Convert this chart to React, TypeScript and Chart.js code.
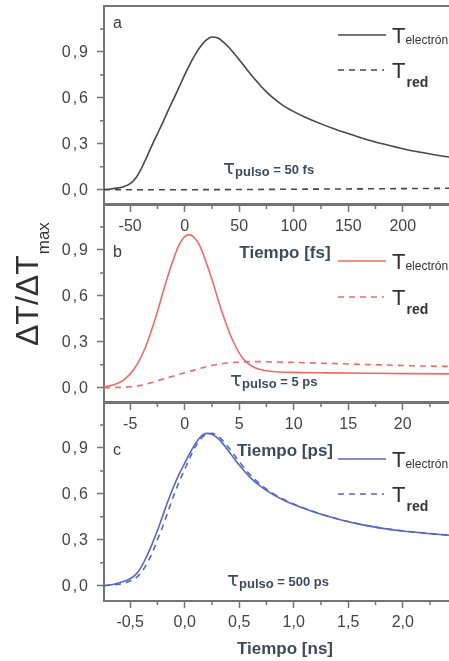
import React, { useEffect, useRef } from "react";
import { Chart, registerables } from "chart.js";
Chart.register(...registerables);

// ---------- Panel a (fs) ----------
const tA = [-74, -68, -62, -56, -50, -45, -40, -35, -30, -25, -20, -15, -10, -5, 0, 5, 10, 15, 20, 25, 30, 35, 40, 45, 50, 55, 60, 65, 70, 75, 80, 90, 100, 110, 125, 140, 155, 170, 185, 200, 215, 230, 245, 258];
const electronA = [0.002, 0.005, 0.01, 0.02, 0.04, 0.075, 0.135, 0.21, 0.29, 0.365, 0.44, 0.52, 0.595, 0.672, 0.75, 0.822, 0.887, 0.94, 0.978, 0.997, 0.992, 0.968, 0.934, 0.893, 0.849, 0.804, 0.759, 0.716, 0.676, 0.639, 0.606, 0.551, 0.51, 0.475, 0.43, 0.39, 0.355, 0.322, 0.294, 0.268, 0.246, 0.227, 0.21, 0.197];
const tARed = [-74, 0, 50, 100, 150, 200, 258];
const redA = [0, 0, 0.001, 0.003, 0.005, 0.007, 0.01];

// ---------- Panel b (ps) ----------
const tB = [-7.4, -6.6, -5.6, -4.6, -3.6, -2.6, -1.6, -0.6, -0.1, 0.4, 0.9, 1.4, 2.4, 3.4, 4.4, 5.4, 6.4, 7.4, 8.4, 10, 13, 17, 21, 25.8];
const electronB = [0.006, 0.017, 0.05, 0.125, 0.264, 0.473, 0.717, 0.92, 0.98, 1.0, 0.98, 0.925, 0.73, 0.5, 0.31, 0.185, 0.132, 0.112, 0.104, 0.1, 0.097, 0.094, 0.092, 0.09];
const tBRed = [-7.4, -6, -5, -4, -3, -2, -1, 0, 1, 2, 3, 4, 5, 6, 7, 9, 12, 15, 18, 21, 25.8];
const redB = [0, 0.002, 0.006, 0.015, 0.034, 0.056, 0.077, 0.097, 0.118, 0.137, 0.152, 0.162, 0.168, 0.17, 0.17, 0.167, 0.161, 0.155, 0.149, 0.143, 0.137];

// ---------- Panel c (ns) ----------
const tC = [-0.74, -0.65, -0.55, -0.5, -0.45, -0.4, -0.35, -0.3, -0.25, -0.2, -0.15, -0.1, -0.05, 0, 0.05, 0.1, 0.15, 0.2, 0.25, 0.3, 0.35, 0.4, 0.45, 0.5, 0.6, 0.7, 0.8, 0.9, 1.0, 1.2, 1.4, 1.6, 1.8, 2.0, 2.2, 2.4, 2.58];
const electronC = [0, 0.01, 0.03, 0.045, 0.072, 0.12, 0.19, 0.27, 0.36, 0.46, 0.56, 0.65, 0.73, 0.8, 0.87, 0.93, 0.975, 0.995, 0.99, 0.965, 0.928, 0.882, 0.834, 0.788, 0.708, 0.647, 0.6, 0.562, 0.53, 0.478, 0.436, 0.402, 0.376, 0.357, 0.343, 0.331, 0.322];
const tCRed = [-0.74, -0.6, -0.5, -0.45, -0.4, -0.35, -0.3, -0.25, -0.2, -0.15, -0.1, -0.05, 0, 0.05, 0.1, 0.15, 0.2, 0.25, 0.3, 0.35, 0.4, 0.45, 0.5, 0.6, 0.7, 0.8, 0.9, 1.0, 1.2, 1.4, 1.6, 1.8, 2.0, 2.2, 2.4, 2.58];
const redC = [0, 0.01, 0.03, 0.05, 0.085, 0.14, 0.21, 0.3, 0.39, 0.49, 0.59, 0.68, 0.76, 0.84, 0.91, 0.96, 0.99, 0.995, 0.98, 0.948, 0.905, 0.858, 0.81, 0.725, 0.658, 0.607, 0.566, 0.533, 0.48, 0.437, 0.403, 0.377, 0.358, 0.344, 0.331, 0.322];

// ---------- Ticks ----------
const yMajor = [0, 0.3, 0.6, 0.9];
const yMinor = [0.15, 0.45, 0.75, 1.05];
const xMajorA = [-50, 0, 50, 100, 150, 200];
const xMinorA = [-25, 25, 75, 125, 175, 225];
const xMajorB = [-5, 0, 5, 10, 15, 20];
const xMinorB = [-2.5, 2.5, 7.5, 12.5, 17.5, 22.5];
const xMajorC = [-0.5, 0, 0.5, 1.0, 1.5, 2.0];
const xMinorC = [-0.25, 0.25, 0.75, 1.25, 1.75, 2.25];

const FONT = "'Liberation Sans', Arial, sans-serif";
const AXIS = "#747474";
const CANVAS_W = 470;
const CANVAS_H = 264;
const X_AXIS_H = 59;

type Cfg = {
  letter: string;
  letterDy: number;
  xs: number[]; ys: number[]; xr: number[]; yr: number[];
  min: number; max: number;
  xMajor: number[]; xMinor: number[];
  fmt: (v: number) => string;
  title: string;
  color: string;
  legendDy: [number, number];
  pulse: string;
  pulseX: number; pulseDy: number;
  yTitle?: boolean;
  top: number;
};

const comma = (v: number) => v.toFixed(1).replace(".", ",");

const panels: Cfg[] = [
  { letter: "a", letterDy: 22, xs: tA, ys: electronA, xr: tARed, yr: redA, min: -74, max: 258, xMajor: xMajorA, xMinor: xMinorA, fmt: (v) => String(v), title: "Tiempo [fs]", color: "#474747", legendDy: [29, 64], pulse: " = 50 fs", pulseX: 223, pulseDy: 168, top: 0 },
  { letter: "b", letterDy: 53, xs: tB, ys: electronB, xr: tBRed, yr: redB, min: -7.4, max: 25.8, xMajor: xMajorB, xMinor: xMinorB, fmt: (v) => String(v), title: "Tiempo [ps]", color: "#ee6a66", legendDy: [57, 93], pulse: " = 5 ps", pulseX: 230, pulseDy: 182, yTitle: true, top: 198 },
  { letter: "c", letterDy: 53, xs: tC, ys: electronC, xr: tCRed, yr: redC, min: -0.74, max: 2.58, xMajor: xMajorC, xMinor: xMinorC, fmt: comma, title: "Tiempo [ns]", color: "#5668c0", legendDy: [57, 92], pulse: " = 500 ps", pulseX: 227, pulseDy: 184, top: 396 },
];

function decor(cfg: Cfg) {
  return {
    id: "decor",
    afterDraw(chart: any) {
      const { ctx, chartArea: a, scales } = chart;
      ctx.save();
      // top frame
      ctx.strokeStyle = AXIS;
      ctx.lineWidth = 2;
      ctx.beginPath();
      ctx.moveTo(a.left - 1, a.top);
      ctx.lineTo(a.right, a.top);
      ctx.stroke();
      // minor ticks
      ctx.lineWidth = 1.5;
      ctx.beginPath();
      for (const v of yMinor) {
        const y = scales.y.getPixelForValue(v);
        ctx.moveTo(a.left - 4, y);
        ctx.lineTo(a.left, y);
      }
      for (const v of cfg.xMinor) {
        const x = scales.x.getPixelForValue(v);
        ctx.moveTo(x, a.bottom);
        ctx.lineTo(x, a.bottom + 4);
      }
      ctx.stroke();
      // y tick labels (slightly letter-spaced like the original)
      ctx.fillStyle = "#444";
      ctx.font = `16px ${FONT}`;
      ctx.textAlign = "right";
      ctx.textBaseline = "middle";
      (ctx as any).letterSpacing = "2px";
      for (const v of yMajor) {
        const y = scales.y.getPixelForValue(v);
        ctx.fillText(comma(v), a.left - 14, y + 0.5);
      }
      (ctx as any).letterSpacing = "0px";
      // panel letter
      ctx.fillStyle = "#3a3a3a";
      ctx.font = `16px ${FONT}`;
      ctx.textBaseline = "alphabetic";
      ctx.textAlign = "left";
      ctx.fillText(cfg.letter, a.left + 9, a.top + cfg.letterDy);
      // legend
      const lx0 = 338, lx1 = 386, tx = 392;
      const y1 = a.top + cfg.legendDy[0];
      const y2 = a.top + cfg.legendDy[1];
      ctx.strokeStyle = cfg.color;
      ctx.lineWidth = 1.6;
      ctx.setLineDash([]);
      ctx.beginPath(); ctx.moveTo(lx0, y1); ctx.lineTo(lx1, y1); ctx.stroke();
      ctx.setLineDash([6, 5]);
      ctx.beginPath(); ctx.moveTo(lx0, y2); ctx.lineTo(lx1 - 2, y2); ctx.stroke();
      ctx.setLineDash([]);
      ctx.fillStyle = "#333";
      ctx.font = `22px ${FONT}`;
      ctx.fillText("T", tx, y1 + 8);
      const tw = ctx.measureText("T").width;
      ctx.font = `12px ${FONT}`;
      ctx.fillText("electrón", tx + tw, y1 + 9);
      ctx.font = `22px ${FONT}`;
      ctx.fillText("T", tx, y2 + 8);
      ctx.font = `bold 14px ${FONT}`;
      ctx.fillText("red", tx + tw + 1, y2 + 17);
      // pulse annotation
      const py = a.top + cfg.pulseDy;
      ctx.fillStyle = "#3d4a5e";
      ctx.font = `20px 'DejaVu Sans', sans-serif`;
      ctx.fillText("τ", cfg.pulseX, py);
      let px = cfg.pulseX + ctx.measureText("τ").width;
      ctx.font = `bold 13px ${FONT}`;
      ctx.fillText("pulso", px, py + 2);
      px += ctx.measureText("pulso").width;
      ctx.fillText(cfg.pulse, px, py);
      // y title
      if (cfg.yTitle) {
        ctx.save();
        ctx.translate(38, 346 - cfg.top);
        ctx.rotate(-Math.PI / 2);
        ctx.fillStyle = "#333";
        ctx.font = `32px ${FONT}`;
        ctx.fillText("ΔT/ΔT", 0, 0);
        const w = ctx.measureText("ΔT/ΔT").width;
        ctx.font = `17px ${FONT}`;
        ctx.fillText("max", w + 1, 11);
        ctx.restore();
      }
      ctx.restore();
    },
  };
}

function PanelChart({ cfg }: { cfg: Cfg }) {
  const ref = useRef<HTMLCanvasElement | null>(null);
  useEffect(() => {
    if (!ref.current) return;
    const chart = new Chart(ref.current, {
      type: "line",
      data: {
        datasets: [
          {
            label: "T electrón",
            data: cfg.xs.map((x, i) => ({ x, y: cfg.ys[i] })),
            borderColor: cfg.color,
            borderWidth: 1.6,
            pointRadius: 0,
            fill: false,
            cubicInterpolationMode: "monotone",
          },
          {
            label: "T red",
            data: cfg.xr.map((x, i) => ({ x, y: cfg.yr[i] })),
            borderColor: cfg.color,
            borderWidth: 1.6,
            borderDash: [6, 5],
            pointRadius: 0,
            fill: false,
            cubicInterpolationMode: "monotone",
          },
        ],
      },
      options: {
        animation: false,
        responsive: false,
        events: [],
        layout: { padding: { top: 6, right: 4, bottom: 0, left: 0 }, autoPadding: false },
        plugins: { legend: { display: false }, tooltip: { enabled: false } },
        scales: {
          x: {
            type: "linear",
            position: "bottom",
            min: cfg.min,
            max: cfg.max,
            afterBuildTicks: (s: any) => { s.ticks = cfg.xMajor.map((v) => ({ value: v })); },
            afterFit: (s: any) => {
              s.height = X_AXIS_H;
              s.paddingLeft = 0; s.paddingRight = 0; s.paddingTop = 0; s.paddingBottom = 0;
            },
            ticks: {
              callback: (v: any) => cfg.fmt(Number(v)),
              font: { family: FONT, size: 16 },
              color: "#444",
              padding: 5,
              maxRotation: 0,
              autoSkip: false,
            },
            grid: { display: true, drawOnChartArea: false, drawTicks: true, tickLength: 7, tickColor: AXIS, tickWidth: 1.5 },
            border: { display: true, color: AXIS, width: 2 },
            title: {
              display: true,
              text: cfg.title,
              color: "#3d4a5c",
              font: { family: FONT, size: 17, weight: "bold", lineHeight: 1.2 },
              padding: { top: 0, bottom: 0 },
            },
          },
          y: {
            type: "linear",
            position: "left",
            min: -0.1,
            max: 1.2,
            afterBuildTicks: (s: any) => { s.ticks = yMajor.map((v) => ({ value: v })); },
            afterFit: (s: any) => {
              s.width = 104;
              s.paddingLeft = 0; s.paddingRight = 0; s.paddingTop = 0; s.paddingBottom = 0;
            },
            ticks: { display: false },
            grid: { display: true, drawOnChartArea: false, drawTicks: true, tickLength: 7, tickColor: AXIS, tickWidth: 1.5 },
            border: { display: true, color: AXIS, width: 2 },
          },
        },
      } as any,
      plugins: [decor(cfg)],
    });
    return () => chart.destroy();
  }, [cfg]);
  return (
    <canvas
      ref={ref}
      width={CANVAS_W}
      height={CANVAS_H}
      style={{ position: "absolute", left: 0, top: cfg.top, width: CANVAS_W, height: CANVAS_H }}
    />
  );
}

export default function App() {
  return (
    <div style={{ position: "absolute", left: 0, top: 0, width: 449, height: 661, overflow: "hidden", background: "#fff" }}>
      {panels.map((p) => (
        <PanelChart key={p.letter} cfg={p} />
      ))}
    </div>
  );
}
